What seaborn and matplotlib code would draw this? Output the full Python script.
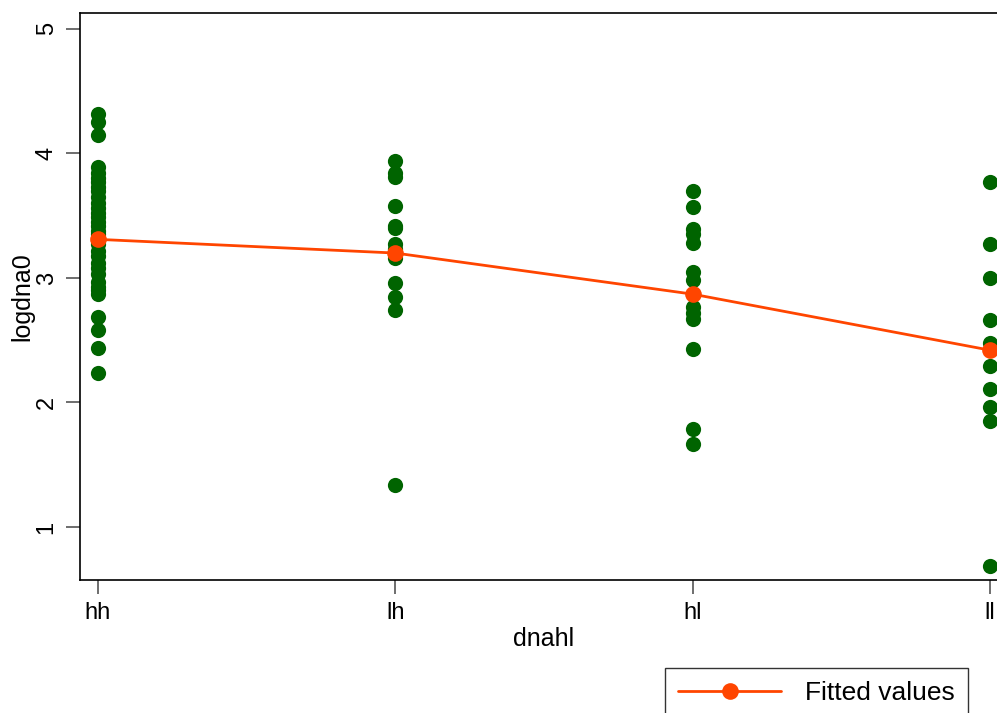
import pandas as pd
import matplotlib
matplotlib.use('Agg')
import matplotlib.pyplot as plt
import seaborn as sns

# Data
groups = ['hh', 'lh', 'hl', 'll']
hh_vals = [4.32, 4.25, 4.15, 3.89, 3.84, 3.80, 3.77, 3.73, 3.70, 3.65, 3.60,
           3.56, 3.52, 3.49, 3.45, 3.42, 3.38, 3.35, 3.30, 3.27, 3.22, 3.18,
           3.12, 3.08, 3.03, 2.97, 2.93, 2.90, 2.87, 2.69, 2.58, 2.44, 2.24]
lh_vals = [3.94, 3.84, 3.81, 3.58, 3.42, 3.40, 3.27, 3.23, 3.16, 2.96, 2.85,
           2.74, 1.34]
hl_vals = [3.70, 3.57, 3.39, 3.35, 3.28, 3.05, 2.98, 2.77, 2.72, 2.67, 2.43,
           1.79, 1.67]
ll_vals = [3.77, 3.27, 3.00, 2.66, 2.48, 2.29, 2.11, 1.96, 1.85, 0.69]
fitted = [3.31, 3.20, 2.87, 2.42]

points = pd.DataFrame({
    'dnahl': ['hh'] * len(hh_vals) + ['lh'] * len(lh_vals)
             + ['hl'] * len(hl_vals) + ['ll'] * len(ll_vals),
    'logdna0': hh_vals + lh_vals + hl_vals + ll_vals,
})
fit_df = pd.DataFrame({'dnahl': groups, 'fitted': fitted})

sns.set_style('white')
plt.rcParams['font.family'] = ['Liberation Sans', 'DejaVu Sans']
plt.rcParams['text.color'] = 'black'
plt.rcParams['axes.labelcolor'] = 'black'
plt.rcParams['xtick.color'] = 'black'
plt.rcParams['ytick.color'] = 'black'

fig = plt.figure(figsize=(9.97, 7.13), dpi=100)
ax = fig.add_axes([0.0802, 0.1865, 0.9308, 0.7953])

sns.scatterplot(data=points, x='dnahl', y='logdna0', color='#006400',
                s=120, linewidth=0, ax=ax, zorder=2)
sns.lineplot(data=fit_df, x='dnahl', y='fitted', color='#FF4500',
             linewidth=2, marker='o', markersize=12, markeredgewidth=0,
             ax=ax, zorder=3, label='Fitted values', legend=False)

ax.set_xlim(-0.0605, 3.0605)
ax.set_ylim(0.574, 5.128)
ax.set_yticks([1, 2, 3, 4, 5])
ax.set_yticklabels(['1', '2', '3', '4', '5'], rotation=90, va='center',
                   fontsize=17)
for lab in ax.get_xticklabels():
    lab.set_fontsize(17)
ax.tick_params(axis='both', direction='out', length=10, width=1.2,
               color='#555555', left=True, bottom=True, pad=6)
ax.set_xlabel('dnahl', fontsize=18, labelpad=2)
ax.set_ylabel('logdna0', fontsize=18, va='center')
ax.yaxis.set_label_coords(-0.0625, 0.5)
for sp in ax.spines.values():
    sp.set_color('black')
    sp.set_linewidth(1.2)
ax.grid(False)

leg_handles, leg_labels = ax.get_legend_handles_labels()
fig.legend(leg_handles, leg_labels, loc='upper left',
           bbox_to_anchor=(0.667, 0.063), fontsize=19, frameon=True,
           fancybox=False, edgecolor='black', handlelength=3.9,
           borderpad=0.5, borderaxespad=0, handletextpad=0.9)

fig.savefig('out.png', dpi=100)
